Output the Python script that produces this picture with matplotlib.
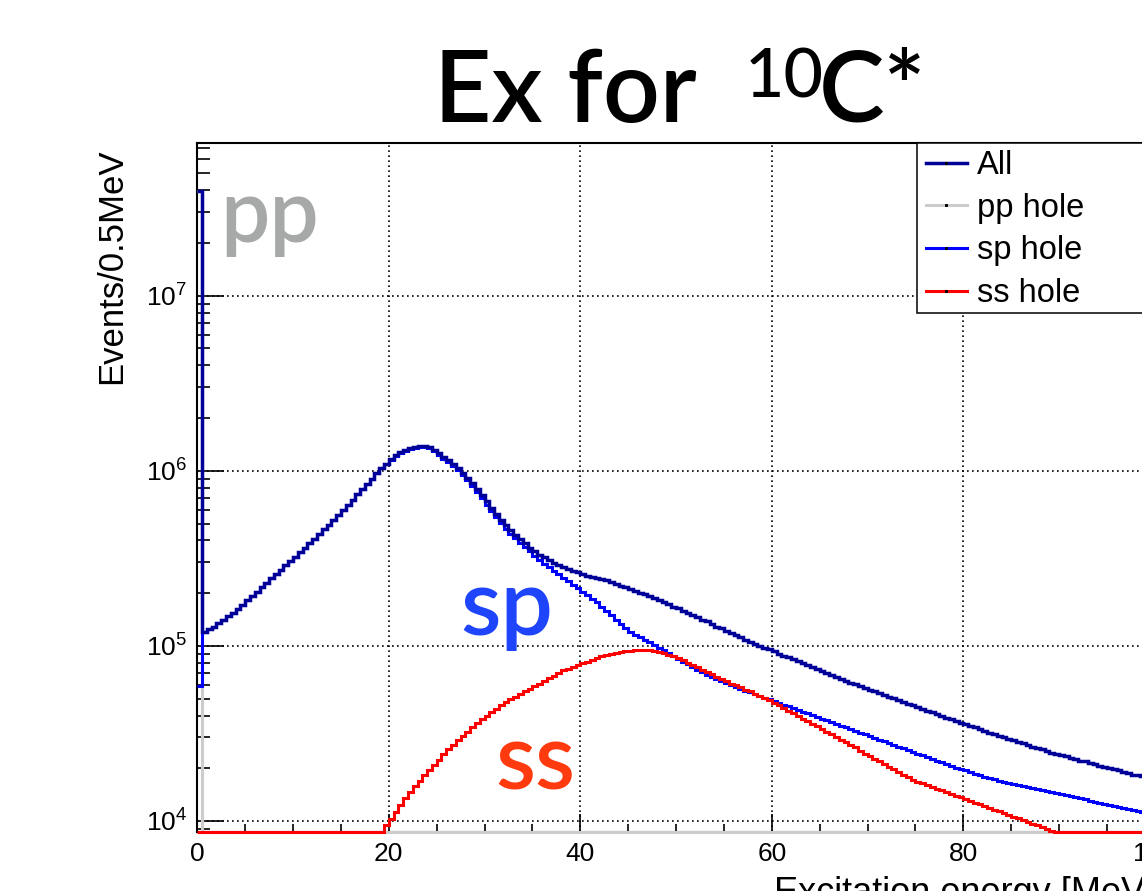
import numpy as np
import matplotlib
matplotlib.use("Agg")
import matplotlib.pyplot as plt
from matplotlib import ticker
from matplotlib.lines import Line2D
from matplotlib.patches import Rectangle

plt.rcParams["font.family"] = ["Liberation Sans", "DejaVu Sans"]
plt.rcParams["mathtext.fontset"] = "custom"
plt.rcParams["mathtext.rm"] = "Liberation Sans"
plt.rcParams["mathtext.it"] = "Liberation Sans:italic"
plt.rcParams["mathtext.bf"] = "Liberation Sans:bold"

# histogram: 0.5 MeV bins from 0 to 100 MeV, contents given as log10(events), 0 = empty bin
bin_width = 0.5
e_max = 100.0

all_log10 = [
    7.60, 5.08, 5.095, 5.11, 5.13, 5.15, 5.17, 5.19, 5.21, 5.235,
    5.26, 5.285, 5.31, 5.335, 5.36, 5.385, 5.41, 5.435, 5.46, 5.485,
    5.51, 5.535, 5.56, 5.585, 5.61, 5.64, 5.665, 5.69, 5.72, 5.745,
    5.775, 5.805, 5.835, 5.865, 5.895, 5.925, 5.955, 5.985, 6.015, 6.04,
    6.065, 6.09, 6.105, 6.12, 6.13, 6.135, 6.14, 6.14, 6.135, 6.12,
    6.10, 6.08, 6.06, 6.04, 6.015, 5.99, 5.96, 5.93, 5.895, 5.86,
    5.825, 5.79, 5.755, 5.72, 5.69, 5.66, 5.635, 5.61, 5.585, 5.56,
    5.54, 5.52, 5.505, 5.49, 5.475, 5.46, 5.45, 5.44, 5.43, 5.42,
    5.41, 5.40, 5.395, 5.39, 5.38, 5.375, 5.365, 5.355, 5.345, 5.335,
    5.325, 5.315, 5.305, 5.295, 5.285, 5.275, 5.26, 5.25, 5.24, 5.225,
    5.215, 5.20, 5.19, 5.175, 5.165, 5.15, 5.14, 5.125, 5.11, 5.10,
    5.085, 5.075, 5.06, 5.05, 5.035, 5.025, 5.01, 5.0, 4.99, 4.98,
    4.97, 4.955, 4.945, 4.935, 4.925, 4.915, 4.90, 4.89, 4.88, 4.87,
    4.855, 4.845, 4.835, 4.825, 4.81, 4.80, 4.79, 4.78, 4.77, 4.76,
    4.75, 4.74, 4.73, 4.72, 4.71, 4.70, 4.69, 4.68, 4.67, 4.66,
    4.65, 4.64, 4.63, 4.62, 4.61, 4.60, 4.59, 4.58, 4.57, 4.56,
    4.555, 4.545, 4.535, 4.525, 4.515, 4.505, 4.495, 4.485, 4.48, 4.47,
    4.46, 4.45, 4.445, 4.435, 4.425, 4.415, 4.41, 4.40, 4.39, 4.385,
    4.375, 4.37, 4.36, 4.355, 4.345, 4.34, 4.33, 4.325, 4.315, 4.31,
    4.30, 4.295, 4.29, 4.28, 4.275, 4.265, 4.26, 4.255, 4.245, 4.24,
]

pp_log10 = [7.60] + [0] * 199

sp_log10 = [
    4.77, 5.08, 5.095, 5.11, 5.13, 5.15, 5.17, 5.19, 5.21, 5.235,
    5.26, 5.285, 5.31, 5.335, 5.36, 5.385, 5.41, 5.435, 5.46, 5.485,
    5.51, 5.535, 5.56, 5.585, 5.61, 5.64, 5.665, 5.69, 5.72, 5.745,
    5.775, 5.805, 5.835, 5.865, 5.895, 5.925, 5.955, 5.985, 6.015, 6.038,
    6.06, 6.085, 6.10, 6.115, 6.125, 6.13, 6.135, 6.135, 6.13, 6.115,
    6.09, 6.07, 6.05, 6.03, 6.005, 5.978, 5.947, 5.915, 5.88, 5.843,
    5.805, 5.77, 5.735, 5.70, 5.67, 5.64, 5.615, 5.59, 5.565, 5.54,
    5.515, 5.49, 5.47, 5.45, 5.43, 5.41, 5.39, 5.37, 5.35, 5.33,
    5.31, 5.29, 5.27, 5.25, 5.225, 5.20, 5.175, 5.15, 5.125, 5.10,
    5.08, 5.065, 5.05, 5.035, 5.02, 5.005, 4.99, 4.975, 4.96, 4.945,
    4.925, 4.91, 4.895, 4.88, 4.865, 4.85, 4.835, 4.82, 4.81, 4.80,
    4.79, 4.775, 4.765, 4.755, 4.745, 4.735, 4.725, 4.715, 4.705, 4.695,
    4.685, 4.675, 4.665, 4.655, 4.645, 4.635, 4.625, 4.615, 4.605, 4.595,
    4.585, 4.575, 4.565, 4.555, 4.545, 4.535, 4.525, 4.515, 4.505, 4.495,
    4.485, 4.475, 4.465, 4.455, 4.445, 4.435, 4.425, 4.415, 4.405, 4.395,
    4.385, 4.375, 4.365, 4.355, 4.345, 4.335, 4.325, 4.315, 4.305, 4.295,
    4.29, 4.28, 4.27, 4.26, 4.25, 4.243, 4.237, 4.231, 4.225, 4.219,
    4.213, 4.207, 4.201, 4.195, 4.189, 4.183, 4.177, 4.171, 4.165, 4.159,
    4.153, 4.147, 4.141, 4.135, 4.129, 4.123, 4.117, 4.111, 4.105, 4.099,
    4.093, 4.087, 4.081, 4.075, 4.069, 4.063, 4.057, 4.051, 4.045, 4.039,
]

ss_log10 = [
    0, 0, 0, 0, 0, 0, 0, 0, 0, 0,
    0, 0, 0, 0, 0, 0, 0, 0, 0, 0,
    0, 0, 0, 0, 0, 0, 0, 0, 0, 0,
    0, 0, 0, 0, 0, 0, 0, 0, 0, 3.975,
    4.01, 4.05, 4.09, 4.13, 4.165, 4.20, 4.23, 4.26, 4.29, 4.32,
    4.35, 4.38, 4.41, 4.435, 4.46, 4.485, 4.51, 4.535, 4.56, 4.58,
    4.60, 4.62, 4.64, 4.66, 4.68, 4.695, 4.71, 4.725, 4.74, 4.755,
    4.77, 4.785, 4.80, 4.815, 4.83, 4.845, 4.86, 4.87, 4.88, 4.89,
    4.90, 4.91, 4.92, 4.93, 4.94, 4.95, 4.955, 4.96, 4.965, 4.97,
    4.972, 4.975, 4.976, 4.976, 4.975, 4.972, 4.965, 4.958, 4.95, 4.94,
    4.93, 4.92, 4.905, 4.89, 4.88, 4.865, 4.85, 4.84, 4.825, 4.81,
    4.80, 4.785, 4.775, 4.765, 4.75, 4.74, 4.725, 4.715, 4.70, 4.69,
    4.675, 4.66, 4.645, 4.63, 4.615, 4.60, 4.585, 4.57, 4.555, 4.54,
    4.525, 4.51, 4.495, 4.48, 4.465, 4.45, 4.435, 4.42, 4.40, 4.385,
    4.37, 4.355, 4.34, 4.325, 4.31, 4.295, 4.28, 4.265, 4.25, 4.235,
    4.225, 4.215, 4.205, 4.195, 4.185, 4.175, 4.165, 4.155, 4.145, 4.135,
    4.125, 4.115, 4.105, 4.095, 4.085, 4.075, 4.065, 4.055, 4.045, 4.035,
    4.025, 4.015, 4.005, 3.995, 3.985, 3.975, 3.965, 3.955, 3.945, 3.94,
    0, 0, 0, 0, 0, 0, 0, 0, 0, 0,
    0, 0, 0, 0, 0, 0, 0, 0, 0, 0,
]

series = [
    # name, log10 contents, colour, width (pt)
    ("pp hole", pp_log10, "#cccccc", 2.2),
    ("sp hole", sp_log10, "#0000ff", 2.2),
    ("ss hole", ss_log10, "#ff0000", 2.2),
    ("All", all_log10, "#000099", 2.5),
]
legend_order = ["All", "pp hole", "sp hole", "ss hole"]

y_min, y_max = 10 ** 3.94, 10 ** 7.874

W, H = 1142, 891


def fx(px):
    return px / W


def fy(py):
    return 1 - py / H


fig = plt.figure(figsize=(W / 100, H / 100), dpi=100)
fig.patch.set_facecolor("white")

ax = fig.add_axes([fx(197.3), fy(831.5), 957.5 / W, (831.5 - 142.7) / H])
ax.set_xlim(0, e_max)
ax.set_yscale("log")
ax.set_ylim(y_min, y_max)

edges = np.arange(0, e_max + bin_width / 2, bin_width)

for name, vals, col, lw in series:
    v = np.asarray(vals, dtype=float)
    counts = np.where(v > 0, 10 ** v, 0.0)
    # ROOT draws empty / underflowing bins on the bottom of the frame
    counts = np.maximum(counts, y_min)
    ax.stairs(counts, edges, baseline=None, color=col, lw=lw, zorder=4, clip_on=False)

# grid + ticks, ROOT style
ax.grid(which="major", color="black", linestyle=(0, (1, 2)), linewidth=1.2)
ax.set_axisbelow(True)
ax.xaxis.set_major_locator(ticker.MultipleLocator(20))
ax.xaxis.set_minor_locator(ticker.MultipleLocator(5))
ax.yaxis.set_major_locator(ticker.LogLocator(base=10, numticks=10))
ax.yaxis.set_minor_locator(ticker.LogLocator(base=10, subs=np.arange(2, 10), numticks=20))
ax.yaxis.set_minor_formatter(ticker.NullFormatter())

ax.tick_params(axis="both", which="both", direction="in", width=1.2, top=False, right=False,
               labelsize=19, pad=7.5)
ax.tick_params(axis="x", which="major", length=13)
ax.tick_params(axis="x", which="minor", length=6)
ax.tick_params(axis="y", which="major", length=19.5)
ax.tick_params(axis="y", which="minor", length=9.5)
for sp in ax.spines.values():
    sp.set_linewidth(1.5)

# axis titles (right-aligned at the axis ends as in ROOT)
fig.text(fx(1154.8), fy(903), "Excitation energy [MeV]", fontsize=26, ha="right", va="baseline")
fig.text(fx(112), fy(148), "Events/0.5MeV", fontsize=25, rotation=90, ha="center", va="top")

# legend with a plain box that runs off the right edge
fig.add_artist(Rectangle((fx(916.7), fy(312.7)), (1170 - 916.7) / W, (312.7 - 142.7) / H,
                         transform=fig.transFigure, facecolor="white", edgecolor="black",
                         linewidth=1.1, zorder=3))
style = {name: (col, lw) for name, _, col, lw in series}
handles = [Line2D([], [], color=style[n][0], lw=style[n][1], marker="s", ms=1.2,
                  mfc="black", mec="black") for n in legend_order]
fig.legend(handles, legend_order, loc="upper left", bbox_to_anchor=(fx(926), fy(150)),
           frameon=False, fontsize=23.5, handlelength=1.25, handletextpad=0.3,
           labelspacing=0.36, borderpad=0, borderaxespad=0, numpoints=1).set_zorder(5)

# title and overlaid labels
big = ["Lato", "Open Sans", "DejaVu Sans"]
fig.text(fx(434), fy(121.7), "Ex for", family=big, fontsize=72, weight="semibold", va="baseline")
fig.text(fx(745), fy(98), "10", family=big, fontsize=49, weight="medium", va="baseline")
fig.text(fx(819), fy(121.7), "C*", family=big, fontsize=71, weight="semibold", va="baseline")

fig.text(fx(220), fy(241.7), "pp", family=big, fontsize=63, weight="semibold", color="#a6a9a8", va="baseline")
fig.text(fx(460), fy(635), "sp", family=big, fontsize=67, weight="semibold", color="#1f45fc", va="baseline")
fig.text(fx(495), fy(790), "ss", family=big, fontsize=66, weight="semibold", color="#ff3a0f", va="baseline")

fig.savefig("out.png", dpi=100)
